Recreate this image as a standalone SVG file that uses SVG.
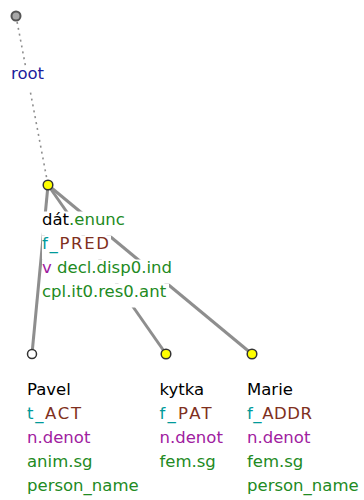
<svg xmlns="http://www.w3.org/2000/svg" width="364" height="500" viewBox="0 0 364 500">
<style>
text{font-family:"DejaVu Sans",sans-serif;font-size:16.5px}
.bg{fill:#fff}
.edge{stroke:#8e8e8e;stroke-width:3;fill:none}
.dot{stroke:#8e8e8e;stroke-width:1.6;stroke-dasharray:2 4;fill:none}
.nd{stroke:#333;stroke-width:1.5}
.y{fill:#ffff00}
.w{fill:#fff}
.k{fill:#000}
.tl{fill:#009a9a}
.br{fill:#7f3020}
.pu{fill:#a020a0}
.gr{fill:#228a22}
.bl{fill:#1c1c9c}
</style>
<rect width="364" height="500" fill="#fff"/>
<g id="connectors">
<line class="dot" x1="16" y1="16" x2="48" y2="185"/>
<line class="edge" x1="48" y1="185" x2="32" y2="354"/>
<line class="edge" x1="48" y1="185" x2="166" y2="354"/>
<line class="edge" x1="48" y1="185" x2="252" y2="354"/>
</g>
<g id="root">
<rect class="bg" x="11" y="66" width="35" height="24"/>
<text x="11" y="79" class="bl">root</text>
<circle cx="16" cy="16" r="4.5" fill="#a8a8a8" stroke="#555" stroke-width="2"/>
</g>
<g id="n-dat">
<rect class="bg" x="42" y="211.5" width="87" height="24"/>
<rect class="bg" x="42" y="235.5" width="69" height="24"/>
<rect class="bg" x="42" y="259.5" width="133" height="24"/>
<rect class="bg" x="42" y="283.5" width="127" height="24"/>
<text x="42" y="224.5"><tspan class="k">dát</tspan><tspan class="gr">.enunc</tspan></text>
<text x="42" y="248.5" textLength="67" lengthAdjust="spacing"><tspan class="tl">f_</tspan><tspan class="br">PRED</tspan></text>
<text x="42" y="272.5"><tspan class="pu">v</tspan><tspan class="gr"> decl.disp0.ind</tspan></text>
<text x="42" y="296.5" class="gr">cpl.it0.res0.ant</text>
<circle class="nd y" cx="48" cy="185" r="4.8"/>
</g>
<g id="n-pavel">
<text x="27" y="395" class="k">Pavel</text>
<text x="27" y="419" textLength="54" lengthAdjust="spacing"><tspan class="tl">t_</tspan><tspan class="br">ACT</tspan></text>
<text x="27" y="443" class="pu">n.denot</text>
<text x="27" y="467" class="gr">anim.sg</text>
<text x="27" y="491" class="gr">person_name</text>
<circle class="nd w" cx="32" cy="354" r="4.5"/>
</g>
<g id="n-kytka">
<text x="159.5" y="395" class="k">kytka</text>
<text x="159.5" y="419" textLength="52" lengthAdjust="spacing"><tspan class="tl">f_</tspan><tspan class="br">PAT</tspan></text>
<text x="159.5" y="443" class="pu">n.denot</text>
<text x="159.5" y="467" class="gr">fem.sg</text>
<circle class="nd y" cx="166" cy="354" r="4.8"/>
</g>
<g id="n-marie">
<text x="247" y="395" class="k">Marie</text>
<text x="247" y="419" textLength="65" lengthAdjust="spacing"><tspan class="tl">f_</tspan><tspan class="br">ADDR</tspan></text>
<text x="247" y="443" class="pu">n.denot</text>
<text x="247" y="467" class="gr">fem.sg</text>
<text x="247" y="491" class="gr">person_name</text>
<circle class="nd y" cx="252" cy="354" r="4.8"/>
</g>
</svg>
